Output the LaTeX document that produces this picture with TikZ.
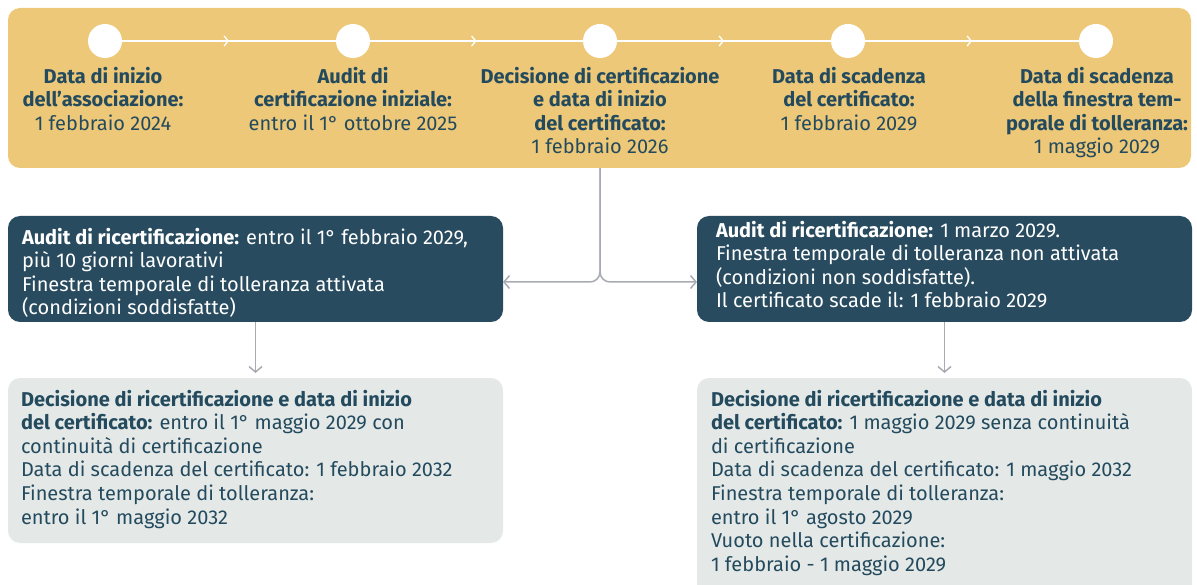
\documentclass[tikz,border=0pt]{standalone}
\usepackage{fontspec}
\setmainfont{Fira Sans}
\usetikzlibrary{arrows.meta,decorations.markings}
\definecolor{bandc}{RGB}{237,200,120}
\definecolor{darkc}{RGB}{40,75,95}
\definecolor{lightc}{RGB}{228,233,232}
\definecolor{inkc}{RGB}{36,74,94}
\definecolor{grayc}{RGB}{168,172,178}
\begin{document}
\begin{tikzpicture}[x=1pt,y=-1pt,
  every node/.style={inner sep=0pt,outer sep=0pt},
  txt/.style={font=\fontsize{20}{23.6}\selectfont},
  lbl/.style={txt,align=center,anchor=north,text=inkc},
  boxtxt/.style={txt,align=left,anchor=north west},
  bandbox/.style={fill=bandc,rounded corners=12pt,anchor=north west,minimum width=1183pt,minimum height=160pt},
  darkbox/.style={fill=darkc,rounded corners=12pt,anchor=north west,minimum width=495pt,minimum height=106pt},
  lightbox/.style={fill=lightc,rounded corners=12pt,anchor=north west,minimum width=495pt},
  dot/.style={circle,fill=white,minimum size=34pt},
  wline/.style={white,line width=1.5pt,postaction={decorate},
    decoration={markings,mark=at position 0.5 with {\arrow{Straight Barb[length=4pt,width=10pt,line width=1.3pt]}}}},
  conn/.style={grayc,line width=1.5pt,-{Straight Barb[length=5.5pt,width=13pt]}}
]
\useasboundingbox (0,0) rectangle (1197,585);
\clip (0,0) rectangle (1197,585);
% band
\node[bandbox] (band) at (8,8) {};
\node[dot] (c1) at (105,41) {};
\node[dot] (c2) at (353,41) {};
\node[dot] (c3) at (600,41) {};
\node[dot] (c4) at (848,41) {};
\node[dot] (c5) at (1096,41) {};
\draw[wline] (c1) -- (c2);
\draw[wline] (c2) -- (c3);
\draw[wline] (c3) -- (c4);
\draw[wline] (c4) -- (c5);
\node[lbl] (l1) at (103,66.5) {\strut\textbf{Data di inizio}\\\textbf{dell’associazione:}\\1 febbraio 2024};
\node[lbl] (l2) at (353,66.5) {\strut\textbf{Audit di}\\\textbf{certificazione iniziale:}\\entro il 1° ottobre 2025};
\node[lbl] (l3) at (600,66.5) {\strut\textbf{Decisione di certificazione}\\\textbf{e data di inizio}\\\textbf{del certificato:}\\1 febbraio 2026};
\node[lbl] (l4) at (849,66.5) {\strut\textbf{Data di scadenza}\\\textbf{del certificato:}\\1 febbraio 2029};
\node[lbl] (l5) at (1097,66.5) {\strut\textbf{Data di scadenza}\\\textbf{della finestra tem-}\\\textbf{porale di tolleranza:}\\1 maggio 2029};
% boxes
\node[darkbox] (b1) at (8,216) {};
\node[darkbox] (b2) at (697,216) {};
\node[lightbox,minimum height=165pt] (b3) at (8,378) {};
\node[lightbox,minimum height=240pt] (b4) at (697,378) {};
\node[boxtxt,text=white] (t1) at (22,227.5) {\strut\textbf{Audit di ricertificazione:} entro il 1° febbraio 2029,\\più 10 giorni lavorativi\\Finestra temporale di tolleranza attivata\\(condizioni soddisfatte)};
\node[boxtxt,text=white] (t2) at (716,220.5) {\strut\textbf{Audit di ricertificazione:} 1 marzo 2029.\\Finestra temporale di tolleranza non attivata\\(condizioni non soddisfatte).\\Il certificato scade il: 1 febbraio 2029};
\node[boxtxt,text=inkc] (t3) at (21,389.5) {\strut\textbf{Decisione di ricertificazione e data di inizio}\\\textbf{del certificato:} entro il 1° maggio 2029 con\\continuità di certificazione\\Data di scadenza del certificato: 1 febbraio 2032\\Finestra temporale di tolleranza:\\entro il 1° maggio 2032};
\node[boxtxt,text=inkc] (t4) at (711,389.5) {\strut\textbf{Decisione di ricertificazione e data di inizio}\\\textbf{del certificato:} 1 maggio 2029 senza continuità\\di certificazione\\Data di scadenza del certificato: 1 maggio 2032\\Finestra temporale di tolleranza:\\entro il 1° agosto 2029\\Vuoto nella certificazione:\\1 febbraio - 1 maggio 2029};
% connectors
\coordinate (split) at (600,282);
\draw[conn,rounded corners=10pt] (band.south -| c3) |- (b1.east |- split);
\draw[conn,rounded corners=10pt] (band.south -| c3) |- (b2.west |- split);
\draw[conn,shorten >=5pt] (b1.south) -- (b3.north);
\draw[conn,shorten >=5pt] (b2.south) -- (b4.north);
\end{tikzpicture}
\end{document}
